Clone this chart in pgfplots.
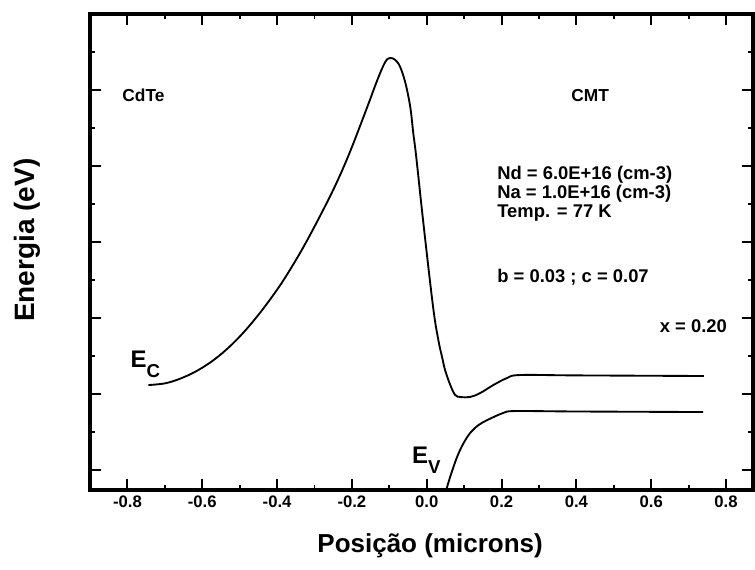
\documentclass[border=0pt]{standalone}
\usepackage{fontspec}
\setmainfont{Liberation Sans}
\usepackage{pgfplots}
\pgfplotsset{compat=1.18}
\begin{document}
\begin{tikzpicture}
\begin{axis}[
  scale only axis, width=497.25pt, height=357pt,
  xmin=-0.9, xmax=0.872, ymin=-0.263, ymax=6,
  xtick={-0.8,-0.6,-0.4,-0.2,0,0.2,0.4,0.6,0.8},
  xticklabels={-0.8,-0.6,-0.4,-0.2,0.0,0.2,0.4,0.6,0.8},
  ytick={0,1,2,3,4,5,6}, yticklabels={},
  minor x tick num=1, minor y tick num=1,
  tick align=inside, major tick length=8pt, minor tick length=4pt,
  every tick/.style={black, line width=1.4pt},
  axis line style={line width=2.4pt},
  tick label style={font=\bfseries\fontsize{12.5}{14}\selectfont},
  xticklabel style={yshift=-1pt},
  xlabel={Posição (microns)},
  xlabel style={font=\bfseries\fontsize{19.5}{22}\selectfont, at={(axis description cs:0.513,0)}, anchor=base, yshift=-47pt},
  ylabel={Energia (eV)},
  ylabel style={font=\bfseries\fontsize{21}{22}\selectfont, at={(axis description cs:-0.084,0.525)}, anchor=base},
  clip=true,
]
\addplot[black, line width=1.4pt, smooth, tension=0.6] coordinates {
(-0.744,1.118) (-0.700,1.140) (-0.660,1.200) (-0.620,1.290) (-0.580,1.410) (-0.540,1.565) (-0.500,1.755)
(-0.460,1.980) (-0.420,2.235) (-0.380,2.520) (-0.330,2.930) (-0.277,3.420) (-0.240,3.790) (-0.204,4.200)
(-0.159,4.776) (-0.132,5.132) (-0.111,5.368) (-0.098,5.421) (-0.084,5.395)
(-0.071,5.303) (-0.057,5.092) (-0.044,4.776) (-0.036,4.434) (-0.028,4.118)
(-0.009,3.250) (0.017,2.145) (0.031,1.711) (0.041,1.487) (0.049,1.316) (0.063,1.118)
(0.076,0.987) (0.090,0.961) (0.116,0.961) (0.143,1.013) (0.178,1.118)
(0.215,1.211) (0.250,1.250) (0.400,1.245) (0.741,1.237)
};
\addplot[black, line width=1.4pt, smooth, tension=0.5] coordinates {
(0.050,-0.300) (0.062,-0.100) (0.081,0.171) (0.098,0.350) (0.116,0.487) (0.138,0.590) (0.162,0.658)
(0.204,0.750) (0.236,0.776) (0.400,0.770) (0.739,0.763)
};
\node[anchor=center, font=\bfseries\fontsize{13}{14}\selectfont] at (axis cs:-0.757,4.93) {CdTe};
\node[anchor=center, font=\bfseries\fontsize{13}{14}\selectfont] at (axis cs:0.437,4.93) {CMT};
\node[anchor=base west, font=\bfseries\fontsize{13.8}{13}\selectfont, inner sep=0pt] at (axis cs:0.188,3.816) {Nd = 6.0E+16 (cm-3)};
\node[anchor=base west, font=\bfseries\fontsize{13.8}{13}\selectfont, inner sep=0pt] at (axis cs:0.188,3.579) {Na = 1.0E+16 (cm-3)};
\node[anchor=base west, font=\bfseries\fontsize{13.8}{13}\selectfont, inner sep=0pt] at (axis cs:0.188,3.329) {Temp. = 77 K};
\node[anchor=base west, font=\bfseries\fontsize{13.8}{13}\selectfont, inner sep=0pt] at (axis cs:0.188,2.461) {b = 0.03 ; c = 0.07};
\node[anchor=base east, font=\bfseries\fontsize{13.8}{13}\selectfont, inner sep=0pt] at (axis cs:0.803,1.816) {x = 0.20};
\node[anchor=base west, inner sep=0pt, font=\bfseries\fontsize{18}{18}\selectfont] at (axis cs:-0.792,1.355) {E\raisebox{-7.5pt}{\fontsize{14}{14}\selectfont C}};
\node[anchor=base west, inner sep=0pt, font=\bfseries\fontsize{18}{18}\selectfont] at (axis cs:-0.040,0.092) {E\raisebox{-7.5pt}{\fontsize{14}{14}\selectfont V}};
\end{axis}
\path (-67.5pt,-59.25pt) rectangle (498.75pt,367.5pt);
\end{tikzpicture}
\end{document}
